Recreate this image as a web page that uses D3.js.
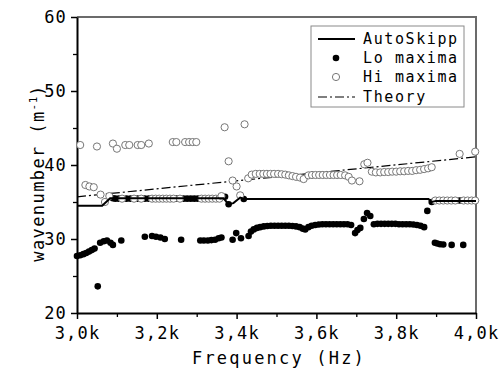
<!DOCTYPE html>
<html>
<head>
<meta charset="utf-8">
<script src="https://cdn.jsdelivr.net/npm/d3@7"></script>
<style>
  body { margin: 0; background: #fff; }
  svg text { font-family: "DejaVu Sans Mono", monospace; fill: #000; }
</style>
</head>
<body>
<svg id="chart" width="504" height="372"></svg>
<script>
// lo maxima (filled dots)
var loFreq = [3000, 3008, 3016, 3023, 3030, 3037, 3044, 3052, 3058, 3067, 3075, 3084, 3090, 3111,
  3090, 3096, 3105, 3124, 3134, 3152, 3170, 3180, 3250, 3267, 3276, 3285, 3294, 3303,
  3371, 3380, 3418,
  3170, 3188, 3198, 3209, 3220, 3261, 3309, 3318, 3328, 3337, 3346, 3355, 3362,
  3390, 3399, 3411, 3430, 3436, 3443, 3451,
  3459, 3468, 3477, 3486, 3495, 3504, 3513, 3522, 3531, 3540, 3549, 3558, 3566, 3572,
  3580, 3588, 3597, 3606, 3615, 3624, 3633, 3642, 3651, 3660, 3669, 3678, 3687,
  3697, 3703, 3710, 3719, 3727, 3735,
  3744, 3753, 3762, 3771, 3780, 3789, 3798, 3807, 3816, 3825, 3834, 3843, 3852, 3861, 3870,
  3878, 3889, 3897, 3903, 3910, 3918, 3939, 3968, 3959];
var loVal = [27.7, 27.8, 27.95, 28.1, 28.3, 28.5, 28.7, 23.6, 29.5, 29.7, 29.8, 29.5, 29.2, 29.8,
  35.5, 35.45, 35.45, 35.45, 35.45, 35.45, 35.45, 35.45, 35.45, 35.45, 35.45, 35.45, 35.45, 35.45,
  35.7, 34.7, 35.4,
  30.3, 30.4, 30.3, 30.2, 30.0, 29.9, 29.8, 29.8, 29.8, 29.85, 29.9, 30.1, 30.2,
  29.9, 30.8, 30.1, 30.4, 31.0, 31.3, 31.5,
  31.6, 31.7, 31.75, 31.8, 31.8, 31.8, 31.8, 31.8, 31.8, 31.75, 31.7, 31.6, 31.4, 31.3,
  31.6, 31.8, 31.9, 31.95, 32.0, 32.0, 32.0, 32.0, 32.0, 32.0, 32.0, 32.0, 31.9,
  30.8, 31.2, 31.5, 32.7, 33.5, 33.1,
  32.0, 32.05, 32.05, 32.05, 32.05, 32.05, 32.05, 32.0, 32.0, 32.0, 32.0, 31.95, 31.9, 31.8, 31.6,
  33.8, 35.0, 29.5, 29.4, 29.3, 29.25, 29.2, 29.2, 35.2];

// hi maxima (open circles)
var hiFreq = [3008, 3050, 3090, 3100, 3121, 3131, 3152, 3161, 3180, 3240, 3249, 3271, 3281, 3290, 3299,
  3370, 3420, 3380, 3959, 3998,
  3021, 3031, 3042, 3059, 3070, 3081,
  3113, 3143, 3161, 3188, 3197, 3206, 3215, 3224, 3233, 3242, 3258, 3312, 3321, 3330, 3339, 3348, 3357,
  3362, 3409, 3390, 3400,
  3429, 3438, 3448, 3458, 3467, 3476, 3485, 3494, 3504, 3513, 3522, 3531, 3540, 3549, 3559, 3568,
  3580, 3589, 3598, 3607, 3616, 3625, 3634, 3643, 3652, 3661, 3672, 3681, 3689, 3708,
  3720, 3728, 3739, 3749, 3760, 3770, 3780, 3790, 3800, 3810, 3820, 3830, 3840, 3850, 3860, 3870, 3880, 3889,
  3898, 3908, 3918, 3928, 3938, 3948, 3969, 3979, 3989, 3998];
var hiVal = [42.7, 42.5, 42.9, 42.2, 42.7, 42.7, 42.7, 42.7, 42.9, 43.1, 43.1, 43.1, 43.1, 43.1, 43.1,
  45.1, 45.5, 40.5, 41.5, 41.8,
  37.3, 37.1, 37.0, 36.0, 35.0, 35.8,
  35.45, 35.45, 35.45, 35.45, 35.45, 35.45, 35.45, 35.45, 35.45, 35.45, 35.45, 35.45, 35.45, 35.45, 35.45, 35.45, 35.45,
  35.8, 35.9, 37.9, 37.1,
  38.2, 38.7, 38.8, 38.8, 38.8, 38.8, 38.8, 38.8, 38.8, 38.75, 38.7, 38.6, 38.5, 38.4, 38.3, 38.1,
  38.6, 38.65, 38.65, 38.65, 38.65, 38.65, 38.65, 38.65, 38.65, 38.65, 38.6, 38.4, 37.9, 37.8,
  40.1, 40.3, 39.1, 39.0, 39.0, 39.05, 39.05, 39.1, 39.1, 39.15, 39.15, 39.2, 39.2, 39.3, 39.35, 39.45, 39.55, 39.7,
  35.2, 35.2, 35.2, 35.2, 35.2, 35.2, 35.2, 35.2, 35.2, 35.2];

// AutoSkipp track
var autoFreq = [3000, 3063, 3083, 3367, 3380, 3392, 3409, 3420, 3881, 3889, 3900, 4000];
var autoVal = [34.5, 34.5, 35.5, 35.5, 34.7, 34.85, 35.6, 35.4, 35.4, 35.0, 35.15, 35.15];

// theory
var theoryFreq = [3000, 4000];
var theoryVal = [35.7, 41.1];

var xTicks = [3000, 3200, 3400, 3600, 3800, 4000];
var yTicks = [20, 30, 40, 50, 60];
var legendLabels = ["AutoSkipp", "Lo maxima", "Hi maxima", "Theory"];

var svg = d3.select("#chart");
var pl = 77, pr = 476, pt = 17, pb = 313;

var x = d3.scaleLinear().domain([3000, 4000]).range([pl, pr]);
var y = d3.scaleLinear().domain([20, 60]).range([pb, pt]);

var fmtK = function (d) { return (d / 1000).toFixed(1).replace(".", ",") + "k"; };

// frame (top / right)
svg.append("path")
    .attr("d", "M" + pl + "," + pt + "H" + pr + "V" + pb)
    .attr("fill", "none")
    .attr("stroke", "#6b6b6b")
    .attr("stroke-width", 2);

// minor ticks
var g = svg.append("g");
g.append("g")
    .attr("transform", "translate(0," + pb + ")")
    .call(d3.axisBottom(x).tickValues(d3.range(3100, 4000, 200)).tickSize(4).tickFormat(""))
    .call(function (s) { s.select(".domain").remove(); s.selectAll("line").attr("stroke-width", 1.3); });
g.append("g")
    .attr("transform", "translate(" + pl + ",0)")
    .call(d3.axisLeft(y).tickValues([25, 35, 45, 55]).tickSize(4).tickFormat(""))
    .call(function (s) { s.select(".domain").remove(); s.selectAll("line").attr("stroke-width", 1.3); });

// major axes
var xAxis = svg.append("g")
    .attr("transform", "translate(0," + pb + ")")
    .call(d3.axisBottom(x).tickValues(xTicks).tickSize(6).tickSizeOuter(0).tickPadding(6).tickFormat(fmtK));
var yAxis = svg.append("g")
    .attr("transform", "translate(" + pl + ",0)")
    .call(d3.axisLeft(y).tickValues(yTicks).tickSize(6).tickSizeOuter(0).tickPadding(4));

[xAxis, yAxis].forEach(function (a) {
    a.select(".domain").attr("stroke-width", 2);
    a.selectAll("line").attr("stroke-width", 1.5);
    a.selectAll("text")
        .attr("font-family", "DejaVu Sans Mono")
        .attr("font-size", 17)
        .attr("letter-spacing", 1.2);
});
xAxis.selectAll("text").attr("dy", "0.85em");

// axis titles
svg.append("text")
    .attr("x", 279).attr("y", 364)
    .attr("text-anchor", "middle")
    .attr("font-size", 17)
    .attr("letter-spacing", 2.2)
    .text("Frequency (Hz)");

var yt = svg.append("text")
    .attr("transform", "translate(44,173) rotate(-90)")
    .attr("text-anchor", "middle")
    .attr("font-size", 17)
    .attr("letter-spacing", 1.4);
yt.append("tspan").text("wavenumber (m");
yt.append("tspan").attr("font-size", 11).attr("dy", -7).attr("letter-spacing", 0.6).text("-1");
yt.append("tspan").attr("dy", 7).text(")");

var line = d3.line().x(function (d) { return x(d[0]); }).y(function (d) { return y(d[1]); });

// theory
svg.append("path")
    .datum(d3.zip(theoryFreq, theoryVal))
    .attr("d", line)
    .attr("fill", "none")
    .attr("stroke", "#000")
    .attr("stroke-width", 1.2)
    .attr("stroke-dasharray", "9,3,2,3");

// lo maxima
svg.append("g").selectAll("circle")
    .data(d3.zip(loFreq, loVal))
    .enter().append("circle")
    .attr("cx", function (d) { return x(d[0]); })
    .attr("cy", function (d) { return y(d[1]); })
    .attr("r", 3.3)
    .attr("fill", "#000");

// hi maxima
svg.append("g").selectAll("circle")
    .data(d3.zip(hiFreq, hiVal))
    .enter().append("circle")
    .attr("cx", function (d) { return x(d[0]); })
    .attr("cy", function (d) { return y(d[1]); })
    .attr("r", 3.6)
    .attr("fill", "#fff")
    .attr("stroke", "#777")
    .attr("stroke-width", 1);

// autoskipp
svg.append("path")
    .datum(d3.zip(autoFreq, autoVal))
    .attr("d", line)
    .attr("fill", "none")
    .attr("stroke", "#000")
    .attr("stroke-width", 2);

// legend
var lg = svg.append("g");
lg.append("rect")
    .attr("x", 311).attr("y", 26).attr("width", 153).attr("height", 81)
    .attr("fill", "#fff").attr("stroke", "#8a8a8a").attr("stroke-width", 1);
var rowY = [39, 58, 77, 97];
lg.append("line").attr("x1", 318).attr("x2", 355).attr("y1", rowY[0]).attr("y2", rowY[0])
    .attr("stroke", "#000").attr("stroke-width", 2);
lg.append("circle").attr("cx", 336).attr("cy", rowY[1]).attr("r", 3.3).attr("fill", "#000");
lg.append("circle").attr("cx", 336).attr("cy", rowY[2]).attr("r", 3.6)
    .attr("fill", "#fff").attr("stroke", "#777");
lg.append("line").attr("x1", 318).attr("x2", 355).attr("y1", rowY[3]).attr("y2", rowY[3])
    .attr("stroke", "#000").attr("stroke-width", 1.2).attr("stroke-dasharray", "9,3,2,3");
lg.selectAll("text.lab")
    .data(legendLabels)
    .enter().append("text")
    .attr("class", "lab")
    .attr("x", 363)
    .attr("y", function (d, i) { return rowY[i] + 5; })
    .attr("font-size", 15)
    .attr("letter-spacing", 1.6)
    .text(function (d) { return d; });
</script>
</body>
</html>
